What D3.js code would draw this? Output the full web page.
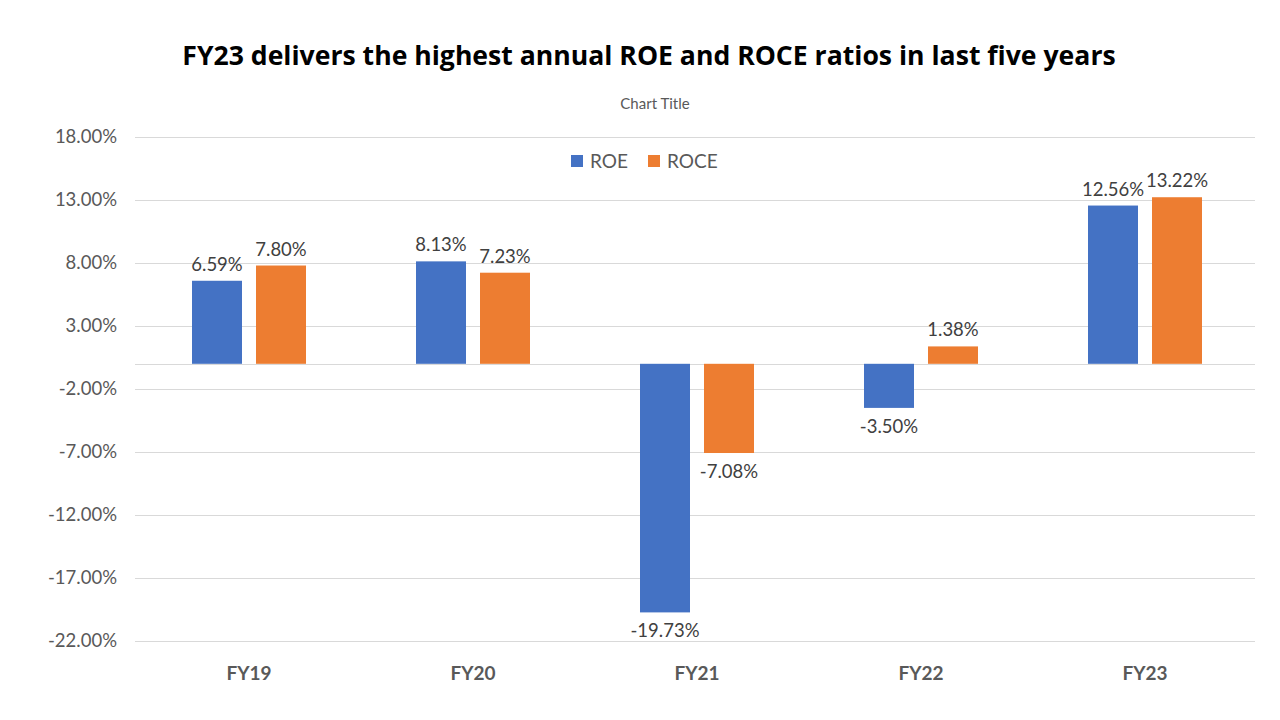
<!DOCTYPE html>
<html><head><meta charset="utf-8">
<script src="https://cdn.jsdelivr.net/npm/d3@7"></script>
<style>body{margin:0;background:#fff}svg{display:block}</style>
</head><body><svg id="c" width="1280" height="720"></svg>
<script>
const categories = ["FY19","FY20","FY21","FY22","FY23"];
const roe = [6.59, 8.13, -19.73, -3.50, 12.56];
const roce = [7.80, 7.23, -7.08, 1.38, 13.22];
const yTicks = [18, 13, 8, 3, -2, -7, -12, -17, -22];
const seriesNames = ["ROE","ROCE"];
const colors = ["#4472C4","#ED7D31"];

const svg = d3.select("#c");
const font = "Lato, 'Open Sans', sans-serif";
const x = d3.scaleBand().domain(categories).range([137,1257]);
const y = d3.scaleLinear().domain([-22,18]).range([641,137]);
const xs = d3.scaleBand().domain(seriesNames).range([0,114]).paddingInner(0.21875);

svg.append("text").attr("x",649).attr("y",65).attr("text-anchor","middle")
  .attr("font-family","'Open Sans', sans-serif").attr("font-weight","bold").attr("font-size",26.6)
  .attr("fill","#000").text("FY23 delivers the highest annual ROE and ROCE ratios in last five years");
svg.append("text").attr("x",655).attr("y",109).attr("text-anchor","middle")
  .attr("font-family",font).attr("font-size",15).attr("fill","#595959").text("Chart Title");

// gridlines
svg.append("g").selectAll("line").data(yTicks.concat([0])).join("line")
  .attr("x1",135).attr("x2",1255).attr("y1",d=>Math.round(y(d))+0.5).attr("y2",d=>Math.round(y(d))+0.5)
  .attr("stroke","#d9d9d9").attr("stroke-width",1);

// y axis labels
const yAxis = d3.axisLeft(y).tickValues(yTicks).tickSize(0).tickPadding(0).tickFormat(d=>d.toFixed(2)+"%");
const ga = svg.append("g").attr("transform","translate(117,0)").call(yAxis);
ga.select(".domain").remove();
ga.selectAll("text").attr("font-family",font).attr("font-size",18.5).attr("fill","#595959");

// x axis labels
const xAxis = d3.axisBottom(x).tickSize(0).tickPadding(0);
const gx = svg.append("g").attr("transform","translate(0,666)").call(xAxis);
gx.select(".domain").remove();
gx.selectAll("text").attr("font-family",font).attr("font-size",19).attr("font-weight","bold").attr("fill","#595959");

const data = [roe, roce];
const bandOff = (x.bandwidth()-114)/2;
data.forEach((vals,si)=>{
  const g = svg.append("g");
  g.selectAll("rect").data(vals).join("rect")
    .attr("x",(d,i)=>x(categories[i])+bandOff+xs(seriesNames[si]))
    .attr("width",xs.bandwidth())
    .attr("y",d=>Math.min(y(d),y(0)))
    .attr("height",d=>Math.abs(y(d)-y(0)))
    .attr("fill",colors[si]);
  g.selectAll("text").data(vals).join("text")
    .attr("x",(d,i)=>x(categories[i])+bandOff+xs(seriesNames[si])+xs.bandwidth()/2)
    .attr("y",d=> d>=0 ? y(d)-10 : y(d)+25)
    .attr("text-anchor","middle").attr("font-family",font).attr("font-size",18.5).attr("fill","#404040")
    .text(d=>d.toFixed(2)+"%");
});

// legend
const lg = svg.append("g");
const lx = [571, 648];
seriesNames.forEach((n,i)=>{
  lg.append("rect").attr("x",lx[i]).attr("y",155).attr("width",12).attr("height",12).attr("fill",colors[i]);
  lg.append("text").attr("x",lx[i]+19).attr("y",168).attr("font-family",font).attr("font-size",19)
    .attr("fill","#595959").text(n);
});
</script></body></html>
